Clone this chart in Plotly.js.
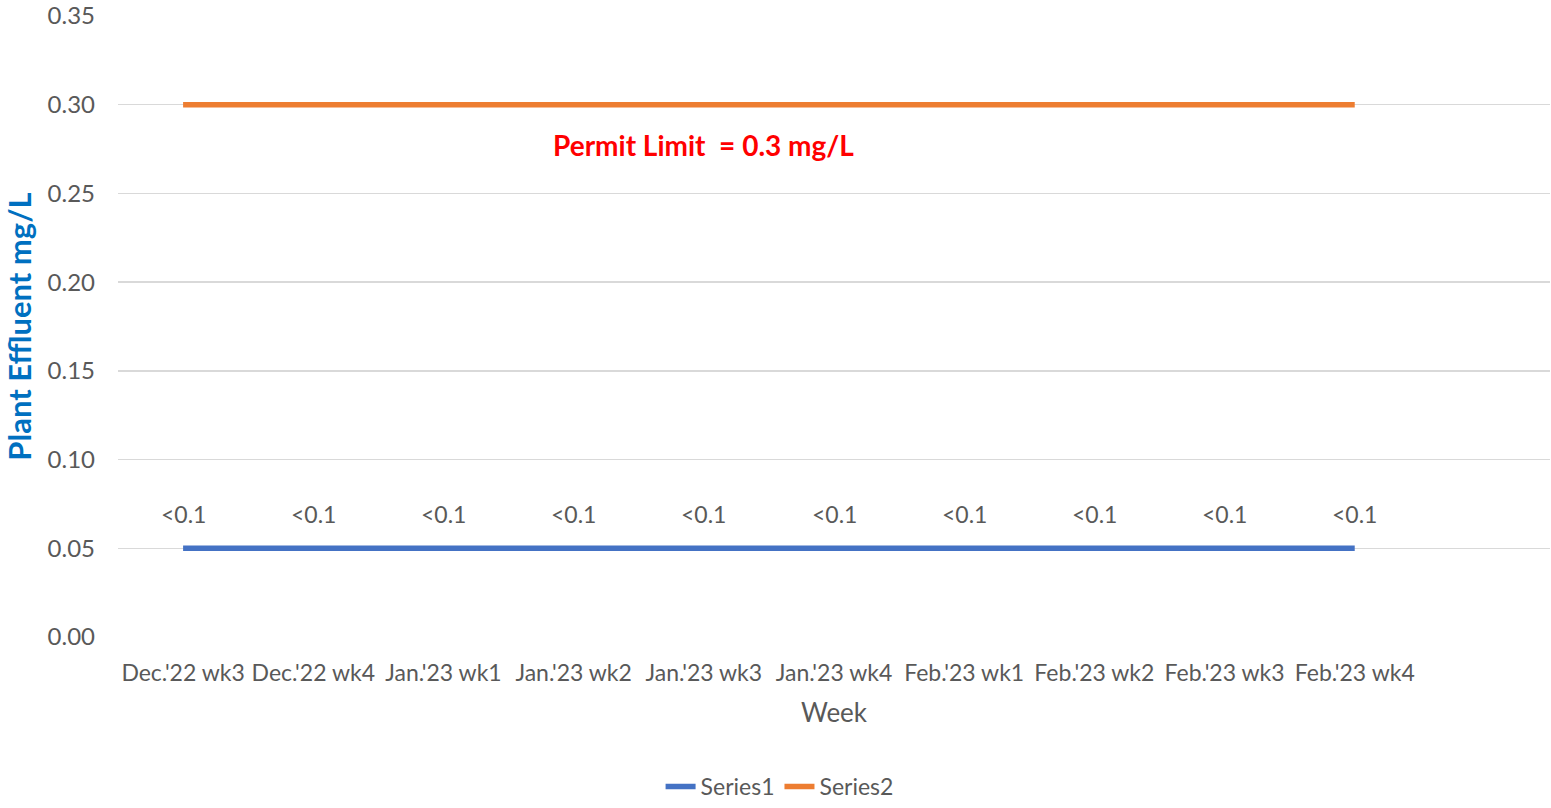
<!DOCTYPE html>
<html>
<head>
<meta charset="utf-8">
<script src="https://cdn.plot.ly/plotly-3.0.1.min.js"></script>
<style>html,body{margin:0;padding:0;background:#fff;}#chart{width:1551px;height:808px;}</style>
</head>
<body>
<div id="chart"></div>
<script>
const weeks = ["Dec.'22 wk3","Dec.'22 wk4","Jan.'23 wk1","Jan.'23 wk2","Jan.'23 wk3","Jan.'23 wk4","Feb.'23 wk1","Feb.'23 wk2","Feb.'23 wk3","Feb.'23 wk4"];
const series1 = [0.05,0.05,0.05,0.05,0.05,0.05,0.05,0.05,0.05,0.05];
const series2 = [0.3,0.3,0.3,0.3,0.3,0.3,0.3,0.3,0.3,0.3];
const series1Labels = ["<0.1","<0.1","<0.1","<0.1","<0.1","<0.1","<0.1","<0.1","<0.1","<0.1"];
const permitText = "Permit Limit  = 0.3 mg/L";

const font = "Lato, 'Open Sans', sans-serif";
const grey = "#595959";

const traces = [
  {x: weeks, y: series1, type: "scatter", mode: "lines", name: "Series1",
   line: {color: "#4472C4", width: 5.5}},
  {x: weeks, y: series2, type: "scatter", mode: "lines", name: "Series2",
   line: {color: "#ED7D31", width: 5.5}}
];

const annotations = weeks.map((w, i) => ({
  x: w, y: series1[i], xref: "x", yref: "y", text: series1Labels[i],
  showarrow: false, yshift: 34, font: {family: font, size: 23, color: grey}
}));
annotations.push({
  x: weeks[4], y: 0.2774, xref: "x", yref: "y", text: "<b>" + permitText + "</b>",
  showarrow: false, font: {family: font, size: 28, color: "#FF0000"}
});

const layout = {
  width: 1551, height: 808,
  margin: {l: 118, r: 1, t: 16, b: 170},
  paper_bgcolor: "#fff", plot_bgcolor: "#fff",
  font: {family: font, color: grey},
  showlegend: true,
  legend: {orientation: "h", x: 0.462, xanchor: "center", y: -0.2395, yanchor: "middle",
           font: {family: font, size: 23, color: grey}, tracegroupgap: 0},
  xaxis: {
    type: "category", range: [-0.5, 10.5],
    tickvals: weeks, ticktext: weeks,
    showgrid: false, zeroline: false, showline: false, ticks: "",
    ticklabelstandoff: 20,
    tickfont: {family: font, size: 23, color: grey},
    title: {text: "Week", font: {family: font, size: 26, color: grey}, standoff: 18}
  },
  yaxis: {
    range: [0, 0.35], dtick: 0.05, tickformat: ".2f",
    showgrid: true, gridcolor: "#D9D9D9", gridwidth: 1.5,
    zeroline: false, showline: false, ticks: "",
    ticklabelstandoff: 22,
    tickfont: {family: font, size: 24, color: grey},
    title: {text: "<b>Plant Effluent mg/L</b>", font: {family: font, size: 31, color: "#0070C0"}, standoff: 8}
  },
  annotations: annotations
};

Plotly.newPlot("chart", traces, layout, {staticPlot: true, displayModeBar: false});
</script>
</body>
</html>
